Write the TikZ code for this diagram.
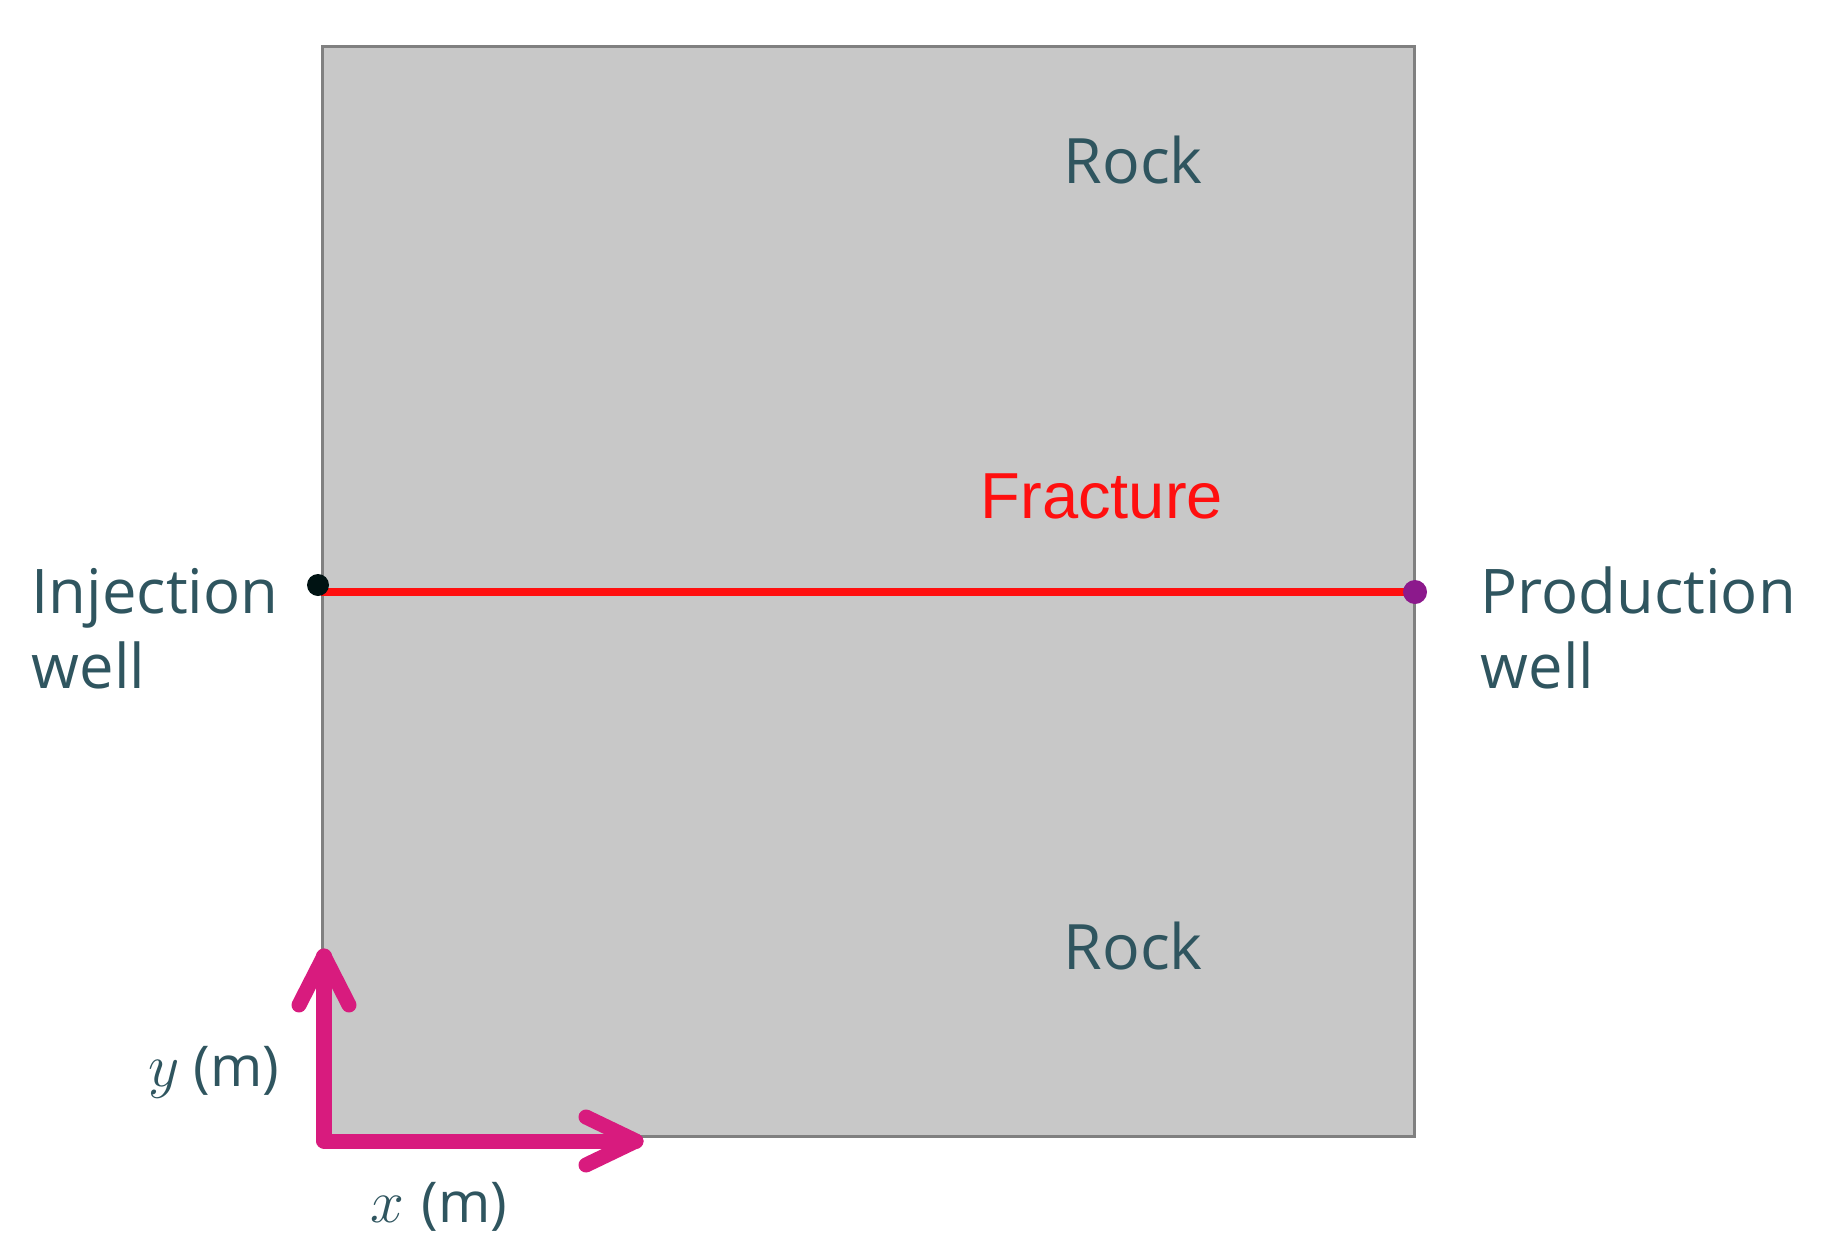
\documentclass[tikz,border=0pt]{standalone}
\usepackage{fontspec}
\setmainfont{Open Sans}
\newfontfamily\arialf{Liberation Sans}
\definecolor{txt}{RGB}{47,85,95}
\definecolor{rockfill}{RGB}{200,200,200}
\definecolor{rockline}{RGB}{128,128,128}
\definecolor{frac}{RGB}{255,15,15}
\definecolor{axis}{RGB}{216,27,126}
\definecolor{prodw}{RGB}{140,25,140}
\tikzset{
  lbl/.style={anchor=base west, inner sep=0pt, text=txt, font=\fontsize{17.5}{21.3}\selectfont, align=left},
  rocklbl/.style={anchor=base west, inner sep=0pt, text=txt, font=\fontsize{17.8}{22}\selectfont},
  axlbl/.style={anchor=base west, inner sep=0pt, text=txt, font=\fontsize{16}{19}\selectfont},
  axisline/.style={draw=axis, line width=0.15cm, line cap=round, line join=round},
}
\newcommand{\axvar}[1]{{\fontsize{19}{20}\selectfont$#1$}}
\begin{document}
\begin{tikzpicture}[x=0.01cm, y=-0.01cm]
\useasboundingbox (0,0) rectangle (1826,1248);
% domain
\draw[fill=rockfill, draw=rockline, line width=0.03cm] (322,46) rectangle (1414,1136);
% fracture
\coordinate (inj) at (321,592);
\coordinate (prod) at (1415,592);
\draw[frac, line width=0.08cm] (inj) -- (prod);
\fill[black!85!teal] (318,585) circle (11);
\fill[prodw] (prod) circle (12);
% labels
\node[rocklbl] (rock1) at (1063,183) {Rock};
\node[rocklbl] (rock2) at (1063,969) {Rock};
\node[anchor=base west, inner sep=0pt, text=frac, font=\arialf\fontsize{18.5}{21}\selectfont] (fr) at (980,518) {Fracture};
\node[lbl] (injl) at (31,688) {Injection\\well};
\node[lbl] (prodl) at (1480,688) {Production\\well};
% axes
\coordinate (O) at (324,1141);
\coordinate (Y) at (324,956);
\coordinate (X) at (636,1141);
\draw[axisline] (Y) -- (O) -- (X);
\draw[axisline] (299,1005) -- (Y) -- (349,1005);
\draw[axisline] (586,1117) -- (X) -- (586,1165);
\node[axlbl] (yl) at (148,1086) {\axvar{y}\kern0.25em(m)};
\node[axlbl] (xl) at (370,1222) {\axvar{x}\kern0.3em(m)};
\end{tikzpicture}
\end{document}
